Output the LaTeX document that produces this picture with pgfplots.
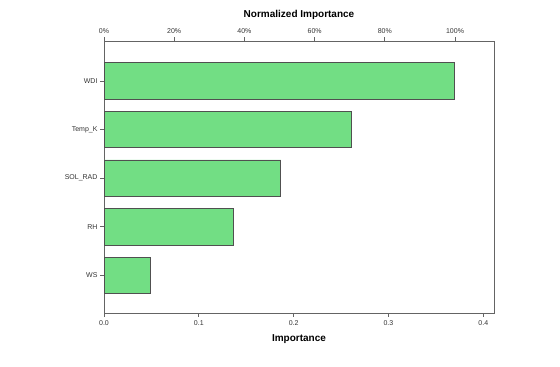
\documentclass[border=0pt]{standalone}
\usepackage{fontspec}
\setmainfont{Liberation Sans}
\usepackage{pgfplots}
\pgfplotsset{compat=1.18}
\definecolor{barg}{RGB}{114,222,132}
\definecolor{axgray}{RGB}{100,100,100}
\definecolor{bordgray}{RGB}{80,80,80}

\begin{document}
\begin{tikzpicture}[x=1pt,y=1pt]
\useasboundingbox (0,0) rectangle (560,367);

% main axis: importance
\begin{axis}[
    at={(104pt,54pt)}, anchor=south west,
    width=390pt, height=271.5pt, scale only axis,
    xbar,
    xmin=0, xmax=0.4113,
    ymin=-0.77, ymax=4.81,
    bar width=0.75,
    ytick={0,1,2,3,4},
    yticklabels={WS,RH,SOL\_RAD,Temp\_K,WDI},
    xtick={0,0.1,0.2,0.3,0.4},
    xticklabels={0.0,0.1,0.2,0.3,0.4},
    xtick pos=bottom, ytick pos=left,
    tick align=outside, major tick length=4pt,
    axis line style={draw=axgray, line width=0.8pt},
    tick style={draw=axgray, line width=0.8pt},
    ticklabel style={font=\fontsize{7}{8}\selectfont, text=black!80},
    yticklabel style={xshift=1pt},
    xlabel={Importance},
    xlabel style={at={(axis description cs:0.5,-0.095)}, anchor=center,
        font=\fontsize{10}{12}\selectfont\bfseries},
]
\addplot[fill=barg, draw=bordgray, line width=0.8pt]
    coordinates {(0.0492,0) (0.136,1) (0.1865,2) (0.2613,3) (0.370,4)};
\end{axis}

% secondary axis: normalized importance
\begin{axis}[
    at={(104pt,54pt)}, anchor=south west,
    width=390pt, height=271.5pt, scale only axis,
    xmin=0, xmax=111.1,
    ymin=-0.77, ymax=4.81,
    axis x line*=top, hide y axis,
    xtick={0,20,40,60,80,100},
    xticklabels={0\%,20\%,40\%,60\%,80\%,100\%},
    tick align=outside, major tick length=4pt,
    axis line style={draw=axgray, line width=0.8pt, -},
    tick style={draw=axgray, line width=0.8pt},
    ticklabel style={font=\fontsize{7}{8}\selectfont, text=black!80},
    xlabel={Normalized Importance},
    xlabel style={at={(axis description cs:0.5,1.0976)}, anchor=center,
        font=\fontsize{10}{12}\selectfont\bfseries},
]
\addplot[draw=none] coordinates {(0,0)};
\end{axis}
\end{tikzpicture}
\end{document}
